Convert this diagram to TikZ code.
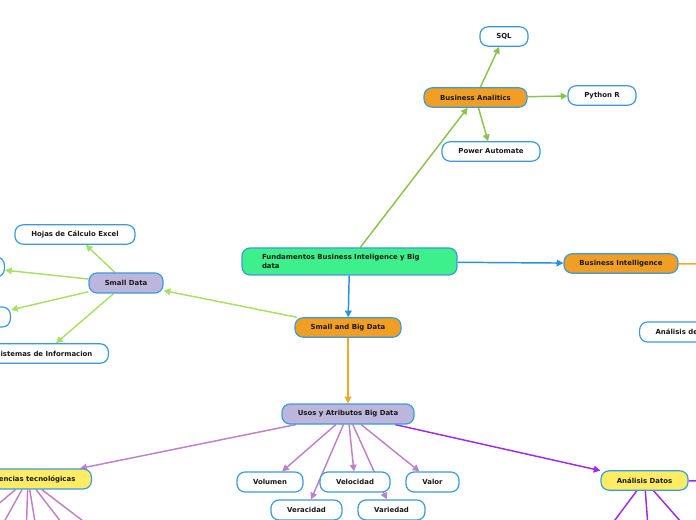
\documentclass[tikz,border=0pt]{standalone}
\usepackage{fontspec}
\setmainfont{DejaVu Sans}
\usetikzlibrary{arrows.meta,backgrounds}

\definecolor{fundgreen}{RGB}{62,240,140}
\definecolor{mainorange}{RGB}{240,158,36}
\definecolor{lavender}{RGB}{188,182,220}
\definecolor{lightyellow}{RGB}{255,236,100}
\definecolor{borderblue}{RGB}{58,155,220}
\definecolor{linegreen}{RGB}{139,195,74}
\definecolor{lightgreen}{RGB}{168,224,100}
\definecolor{lineblue}{RGB}{41,144,224}
\definecolor{lineorange}{RGB}{245,166,35}
\definecolor{linepink}{RGB}{192,128,200}
\definecolor{lineviolet}{RGB}{160,40,240}

\tikzset{
  topicbox/.style={draw=borderblue, line width=0.9pt, rounded corners=6pt, fill=white,
    minimum height=14.5pt, inner sep=0pt, font=\fontsize{5.2pt}{6.2pt}\selectfont\bfseries, text=black!90},
  link/.style={line width=1.1pt, -{Triangle[length=5pt,width=5pt]}},
}

\begin{document}
\begin{tikzpicture}[x=0.75pt,y=0.75pt,yscale=-1,xscale=1]
\useasboundingbox (0,0) rectangle (696,520);

%Shape: Rounded Rect (centre)
\node [topicbox, fill=fundgreen, minimum height=20.25pt, text width=131.25pt, inner xsep=15pt, align=left] (fund) at (349.5,261.5) {Fundamentos Business Inteligence y Big\\data};
%Shape: Rounded Rect (second level)
\node [topicbox, fill=mainorange, minimum width=79.5pt] (sbd) at (348,327.5) {Small and Big Data};
\node [topicbox, fill=mainorange, minimum width=77.25pt] (ba) at (475.5,97.5) {Business Analitics};
\node [topicbox, fill=mainorange, minimum width=85.5pt] (bi) at (621,263.5) {Business Intelligence};
%Shape: Rounded Rect (Business Analitics)
\node [topicbox, minimum width=36pt] (sql) at (504,36.5) {SQL};
\node [topicbox, minimum width=51pt] (py) at (602,95.5) {Python R};
\node [topicbox, minimum width=73.5pt] (pa) at (491,151.5) {Power Automate};
\node [topicbox, anchor=west, inner xsep=12pt, minimum height=15pt] (adx) at (639,332) {Análisis de};
%Shape: Rounded Rect (Small Data)
\node [topicbox, fill=lavender, minimum width=55.5pt, minimum height=15pt] (sd) at (126,283) {Small Data};
\node [topicbox, minimum width=90pt] (hojas) at (75,234.5) {Hojas de Cálculo Excel};
\node [topicbox, anchor=east, minimum width=45pt, minimum height=15pt] (lefta) at (5,267) {};
\node [topicbox, anchor=east, minimum width=45pt, minimum height=15pt] (leftb) at (11,317) {};
\node [topicbox, anchor=east, inner xsep=12pt] (sist) at (109,353.5) {Sistemas de Informacion};
%Shape: Rounded Rect (Big Data)
\node [topicbox, fill=lavender, minimum width=99pt, minimum height=15pt] (usos) at (348,414) {Usos y Atributos Big Data};
\node [topicbox, minimum width=49.5pt, minimum height=15pt] (vol) at (270,482) {Volumen};
\node [topicbox, minimum width=52.5pt, minimum height=15pt] (vel) at (355,482) {Velocidad};
\node [topicbox, minimum width=39.75pt, minimum height=15pt] (val) at (432.5,482) {Valor};
\node [topicbox, minimum width=53.25pt, minimum height=15pt] (ver) at (306.5,510) {Veracidad};
\node [topicbox, minimum width=50.25pt, minimum height=15pt] (var) at (391.5,510) {Variedad};
\node [topicbox, fill=lightyellow, anchor=east, inner xsep=12pt, minimum height=15pt] (tend) at (92,479) {Tendencias tecnológicas};
\node [topicbox, fill=lightyellow, minimum width=65.25pt] (anD) at (644.5,480.5) {Análisis Datos};

%free ends of the branches leaving the page
\coordinate (biout) at (720,264);
\coordinate (adout) at (720,481);
\coordinate (ta) at (108,540);
\coordinate (tb) at (75,540);
\coordinate (tc) at (38,540);
\coordinate (td) at (26,540);
\coordinate (te) at (-6,540);
\coordinate (tf) at (-44,540);
\coordinate (aa) at (600,540);
\coordinate (ab) at (649,540);
\coordinate (ac) at (697,540);

\begin{pgfonlayer}{background}
%Straight Lines
\draw [link, color=linegreen] (fund) -- (ba);
\draw [link, color=linegreen] (ba) -- (sql);
\draw [link, color=linegreen] (ba) -- (py);
\draw [link, color=linegreen] (ba) -- (pa);
\draw [link, color=lineblue] (fund) -- (bi);
\draw [link, color=lineblue] (fund) -- (sbd);
\draw [line width=1.1pt, color=lineorange] (bi) -- (biout);
%Straight Lines
\draw [link, color=lightgreen] (sbd) -- (sd);
\draw [link, color=lightgreen] (sd) -- (hojas);
\draw [link, color=lightgreen] (sd) -- (lefta);
\draw [link, color=lightgreen] (sd) -- (leftb);
\draw [link, color=lightgreen] (sd) -- (sist);
\draw [link, color=lineorange] (sbd) -- (usos);
%Straight Lines
\draw [link, color=linepink] (usos) -- (tend);
\draw [link, color=linepink] (usos) -- (vol);
\draw [link, color=linepink] (usos) -- (ver);
\draw [link, color=linepink] (usos) -- (vel);
\draw [link, color=linepink] (usos) -- (var);
\draw [link, color=linepink] (usos) -- (val);
\draw [link, color=lineviolet] (usos) -- (anD);
\foreach \p in {ta,tb,tc,td,te,tf}
  \draw [line width=1.1pt, color=linepink] (tend) -- (\p);
\foreach \p in {aa,ab,ac,adout}
  \draw [line width=1.1pt, color=lineviolet] (anD) -- (\p);
\end{pgfonlayer}

\end{tikzpicture}
\end{document}
